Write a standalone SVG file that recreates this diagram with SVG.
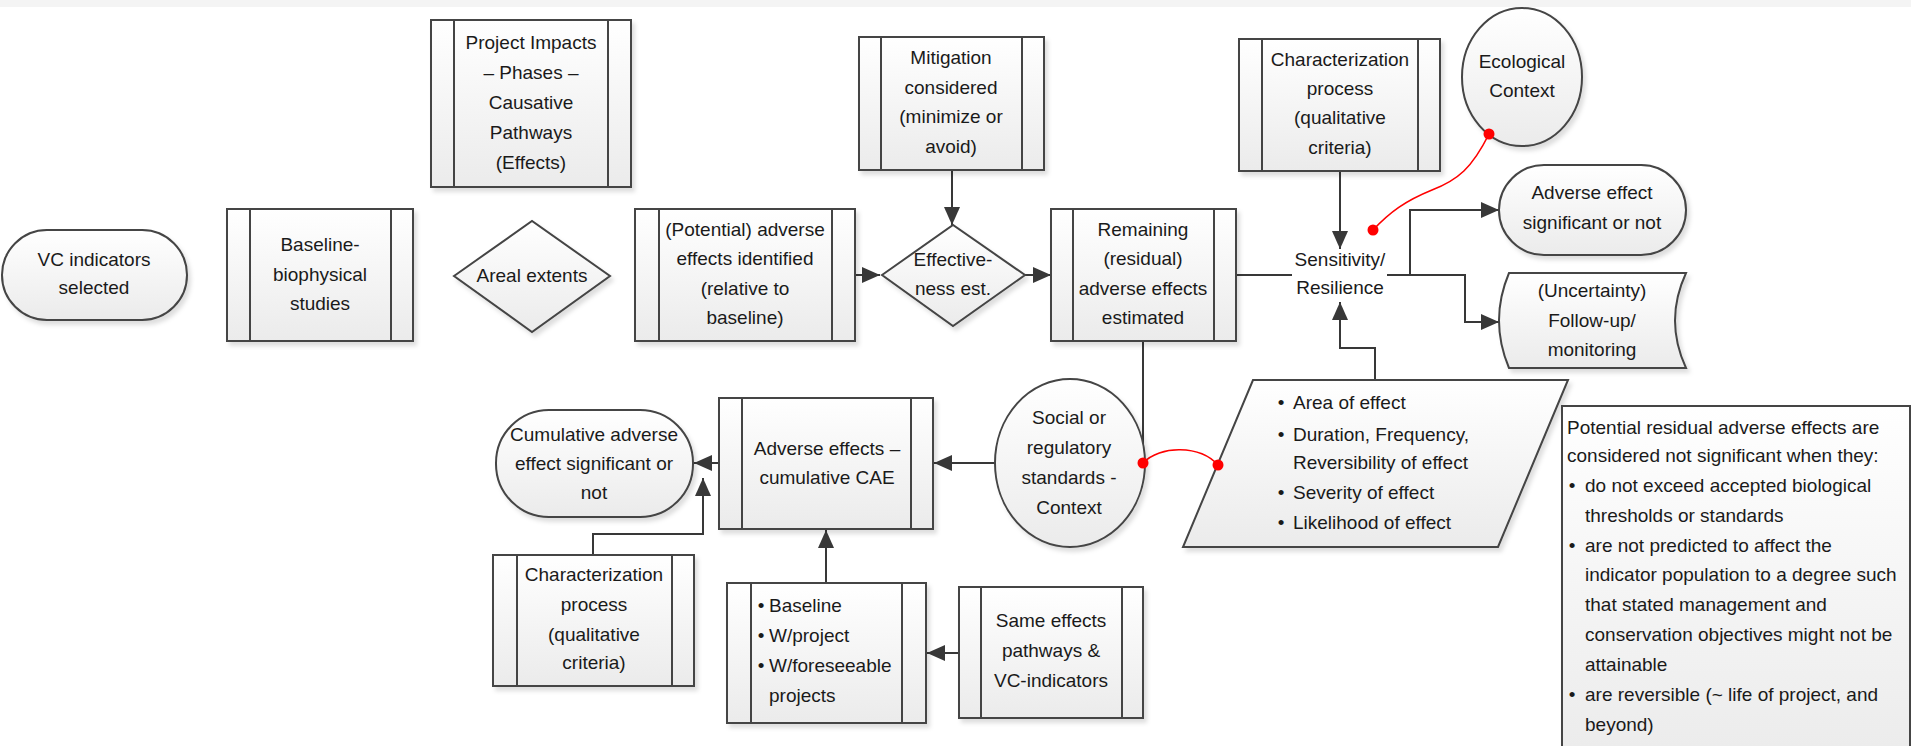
<svg xmlns="http://www.w3.org/2000/svg" width="1911" height="746" viewBox="0 0 1911 746">
<defs>
<linearGradient id="g" x1="0" y1="0" x2="0" y2="1">
<stop offset="0" stop-color="#ffffff"/>
<stop offset="1" stop-color="#ebebeb"/>
</linearGradient>
<filter id="sh" x="-10%" y="-10%" width="125%" height="130%">
<feDropShadow dx="3" dy="4" stdDeviation="2" flood-color="#000" flood-opacity="0.13"/>
</filter>
<marker id="ar" markerUnits="userSpaceOnUse" markerWidth="19" markerHeight="16" refX="18" refY="8" orient="auto">
<path d="M0,0 L18,8 L0,16 z" fill="#383838"/>
</marker>
<style>
.box{fill:url(#g);stroke:#444;stroke-width:2;filter:url(#sh)}
.bar{stroke:#444;stroke-width:2;fill:none}
.t{font-family:"Liberation Sans",Arial,sans-serif;font-size:19px;fill:#1a1a1a;text-anchor:middle}
.l{text-anchor:start}
.c{fill:none;stroke:#383838;stroke-width:2}
.ca{fill:none;stroke:#383838;stroke-width:2;marker-end:url(#ar)}
.red{fill:none;stroke:#ff0000;stroke-width:1.6}
.dot{fill:#ff0000}
</style>
</defs>
<rect x="0" y="0" width="1911" height="746" fill="#ffffff"/>
<rect x="0" y="0" width="1911" height="7" fill="#f4f4f4"/>

<g id="connectors">
<path class="ca" d="M855,275 H880"/>
<path class="ca" d="M952,170 V225"/>
<path class="ca" d="M1025,275 H1051"/>
<path class="c" d="M1236,275 H1292"/>
<path class="ca" d="M1340,171 V249"/>
<path class="ca" d="M1375,380 V348 H1340 V302"/>
<path class="ca" d="M1387,275 H1465 V322 H1499"/>
<path class="ca" d="M1410,275 V210 H1499"/>
<path class="ca" d="M1143,341 V463 H934"/>
<path class="ca" d="M719,463 H694"/>
<path class="ca" d="M593,555 V534 H703 V478"/>
<path class="ca" d="M826,583 V530"/>
<path class="ca" d="M959,653 H927"/>
<path class="red" d="M1489,134 C1472,168 1458,180 1432,190 C1405,201 1390,212 1373,230"/>
<path class="red" d="M1143,463 C1160,445 1200,445 1218,465"/>
</g>

<g id="nodes">
<g id="vc">
<rect class="box" x="2" y="230" width="185" height="90" rx="45" ry="45"/>
<text class="t" x="94" y="266">VC indicators</text>
<text class="t" x="94" y="294">selected</text>
</g>
<g id="baseline">
<rect class="box" x="227" y="209" width="186" height="132"/>
<path class="bar" d="M250,209 V341 M391,209 V341"/>
<text class="t" x="320" y="251">Baseline-</text>
<text class="t" x="320" y="281">biophysical</text>
<text class="t" x="320" y="310">studies</text>
</g>
<g id="areal">
<path class="box" d="M454,276 L532,221 L610,276 L532,332 Z"/>
<text class="t" x="532" y="282">Areal extents</text>
</g>
<g id="project">
<rect class="box" x="431" y="20" width="200" height="167"/>
<path class="bar" d="M454,20 V187 M608,20 V187"/>
<text class="t" x="531" y="49">Project Impacts</text>
<text class="t" x="531" y="79">– Phases –</text>
<text class="t" x="531" y="109">Causative</text>
<text class="t" x="531" y="139">Pathways</text>
<text class="t" x="531" y="169">(Effects)</text>
</g>
<g id="potential">
<rect class="box" x="635" y="209" width="220" height="132"/>
<path class="bar" d="M659,209 V341 M832,209 V341"/>
<text class="t" x="745" y="236">(Potential) adverse</text>
<text class="t" x="745" y="265">effects identified</text>
<text class="t" x="745" y="295">(relative to</text>
<text class="t" x="745" y="324">baseline)</text>
</g>
<g id="mitigation">
<rect class="box" x="859" y="37" width="185" height="133"/>
<path class="bar" d="M881,37 V170 M1022,37 V170"/>
<text class="t" x="951" y="64">Mitigation</text>
<text class="t" x="951" y="94">considered</text>
<text class="t" x="951" y="123">(minimize or</text>
<text class="t" x="951" y="153">avoid)</text>
</g>
<g id="effectiveness">
<path class="box" d="M882,275 L953,225 L1025,275 L953,326 Z"/>
<text class="t" x="953" y="266">Effective-</text>
<text class="t" x="953" y="295">ness est.</text>
</g>
<g id="remaining">
<rect class="box" x="1051" y="209" width="185" height="132"/>
<path class="bar" d="M1073,209 V341 M1214,209 V341"/>
<text class="t" x="1143" y="236">Remaining</text>
<text class="t" x="1143" y="265">(residual)</text>
<text class="t" x="1143" y="295">adverse effects</text>
<text class="t" x="1143" y="324">estimated</text>
</g>
<g id="char-top">
<rect class="box" x="1239" y="39" width="201" height="132"/>
<path class="bar" d="M1262,39 V171 M1418,39 V171"/>
<text class="t" x="1340" y="66">Characterization</text>
<text class="t" x="1340" y="95">process</text>
<text class="t" x="1340" y="124">(qualitative</text>
<text class="t" x="1340" y="154">criteria)</text>
</g>
<g id="ecological">
<ellipse class="box" cx="1522" cy="77" rx="60" ry="69"/>
<text class="t" x="1522" y="68">Ecological</text>
<text class="t" x="1522" y="97">Context</text>
</g>
<g id="sensitivity">
<text class="t" x="1340" y="266">Sensitivity/</text>
<text class="t" x="1340" y="294">Resilience</text>
</g>
<g id="adverse-sig">
<rect class="box" x="1499" y="165" width="187" height="90" rx="45" ry="45"/>
<text class="t" x="1592" y="199">Adverse effect</text>
<text class="t" x="1592" y="229">significant or not</text>
</g>
<g id="uncertainty">
<path class="box" d="M1509,273 L1686,273 Q1664,320.5 1686,368 L1509,368 Q1489,320.5 1509,273 Z"/>
<text class="t" x="1592" y="297">(Uncertainty)</text>
<text class="t" x="1592" y="327">Follow-up/</text>
<text class="t" x="1592" y="356">monitoring</text>
</g>
<g id="criteria-list">
<path class="box" d="M1253,380 L1568,380 L1498,547 L1183,547 Z"/>
<text class="t" x="1281" y="409">•</text>
<text class="t l" x="1293" y="409">Area of effect</text>
<text class="t" x="1281" y="441">•</text>
<text class="t l" x="1293" y="441">Duration, Frequency,</text>
<text class="t l" x="1293" y="469">Reversibility of effect</text>
<text class="t" x="1281" y="499">•</text>
<text class="t l" x="1293" y="499">Severity of effect</text>
<text class="t" x="1281" y="529">•</text>
<text class="t l" x="1293" y="529">Likelihood of effect</text>
</g>
<g id="note">
<rect class="box" x="1562" y="406" width="348" height="360"/>
<text class="t l" x="1567" y="434">Potential residual adverse effects are</text>
<text class="t l" x="1567" y="462">considered not significant when they:</text>
<text class="t" x="1572" y="492">•</text>
<text class="t l" x="1585" y="492">do not exceed accepted biological</text>
<text class="t l" x="1585" y="522">thresholds or standards</text>
<text class="t" x="1572" y="552">•</text>
<text class="t l" x="1585" y="552">are not predicted to affect the</text>
<text class="t l" x="1585" y="581">indicator population to a degree such</text>
<text class="t l" x="1585" y="611">that stated management and</text>
<text class="t l" x="1585" y="641">conservation objectives might not be</text>
<text class="t l" x="1585" y="671">attainable</text>
<text class="t" x="1572" y="701">•</text>
<text class="t l" x="1585" y="701">are reversible (~ life of project, and</text>
<text class="t l" x="1585" y="731">beyond)</text>
</g>
<g id="social">
<ellipse class="box" cx="1070" cy="463" rx="75" ry="84"/>
<text class="t" x="1069" y="424">Social or</text>
<text class="t" x="1069" y="454">regulatory</text>
<text class="t" x="1069" y="484">standards -</text>
<text class="t" x="1069" y="514">Context</text>
</g>
<g id="cae">
<rect class="box" x="719" y="398" width="214" height="131"/>
<path class="bar" d="M742,398 V529 M911,398 V529"/>
<text class="t" x="827" y="455">Adverse effects –</text>
<text class="t" x="827" y="484">cumulative CAE</text>
</g>
<g id="cumulative-sig">
<rect class="box" x="496" y="410" width="197" height="107" rx="53" ry="53"/>
<text class="t" x="594" y="441">Cumulative adverse</text>
<text class="t" x="594" y="470">effect significant or</text>
<text class="t" x="594" y="499">not</text>
</g>
<g id="char-bottom">
<rect class="box" x="493" y="555" width="201" height="131"/>
<path class="bar" d="M517,555 V686 M672,555 V686"/>
<text class="t" x="594" y="581">Characterization</text>
<text class="t" x="594" y="611">process</text>
<text class="t" x="594" y="641">(qualitative</text>
<text class="t" x="594" y="669">criteria)</text>
</g>
<g id="scenarios">
<rect class="box" x="727" y="583" width="199" height="140"/>
<path class="bar" d="M751,583 V723 M902,583 V723"/>
<text class="t" x="761" y="612">•</text>
<text class="t l" x="769" y="612">Baseline</text>
<text class="t" x="761" y="642">•</text>
<text class="t l" x="769" y="642">W/project</text>
<text class="t" x="761" y="672">•</text>
<text class="t l" x="769" y="672">W/foreseeable</text>
<text class="t l" x="769" y="702">projects</text>
</g>
<g id="same-effects">
<rect class="box" x="959" y="587" width="184" height="131"/>
<path class="bar" d="M981,587 V718 M1122,587 V718"/>
<text class="t" x="1051" y="627">Same effects</text>
<text class="t" x="1051" y="657">pathways &amp;</text>
<text class="t" x="1051" y="687">VC-indicators</text>
</g>
</g>
<g id="red-dots">
<circle class="dot" cx="1489" cy="134" r="5.5"/>
<circle class="dot" cx="1373" cy="230" r="5.5"/>
<circle class="dot" cx="1143" cy="463" r="5.5"/>
<circle class="dot" cx="1218" cy="465" r="5.5"/>
</g>
</svg>
